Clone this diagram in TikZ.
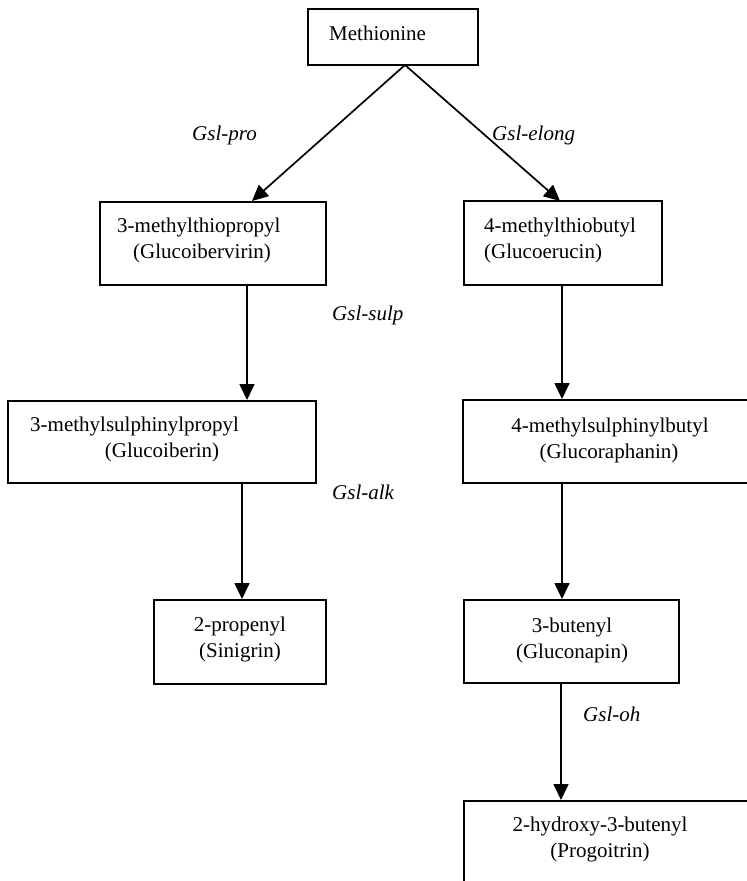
\documentclass[tikz,border=0pt]{standalone}
\usepackage{fontspec}
\setmainfont{Liberation Serif}
\usetikzlibrary{arrows.meta}
\begin{document}
\begin{tikzpicture}[x=1pt,y=-1pt,
  box/.style={draw,line width=2pt,rectangle,inner sep=0pt},
  txt/.style={inner sep=0pt,font=\fontsize{21}{25}\selectfont},
  lab/.style={inner sep=0pt,font=\fontsize{21}{25}\selectfont\itshape},
  conn/.style={line width=1.7pt,-{Triangle[length=16pt,width=15pt]}}]
\useasboundingbox (0,0) rectangle (747,881);
\clip (0,0) rectangle (747,881);
\fill[white] (0,0) rectangle (747,881);
% boxes
\node[box,minimum width=170pt,minimum height=56pt] (M) at (393,37) {};
\node[box,minimum width=226pt,minimum height=83pt] (A) at (213,243.5) {};
\node[box,minimum width=198pt,minimum height=84pt] (B) at (563,243) {};
\node[box,minimum width=308pt,minimum height=82pt] (C) at (162,442) {};
\node[box,minimum width=320pt,minimum height=83pt] (D) at (623,441.5) {};
\node[box,minimum width=172pt,minimum height=84pt] (E) at (240,642) {};
\node[box,minimum width=215pt,minimum height=83pt] (F) at (571.5,641.5) {};
\node[box,minimum width=320pt,minimum height=140pt] (G) at (624,871) {};
% texts
\node[txt,anchor=base west] (tM) at (329,40) {Methionine};
\node[txt,anchor=base west] (tA1) at (117,232) {3-methylthiopropyl};
\node[txt,anchor=base west] (tA2) at (133,258) {(Glucoibervirin)};
\node[txt,anchor=base west] (tB1) at (484,232) {4-methylthiobutyl};
\node[txt,anchor=base west] (tB2) at (484,258) {(Glucoerucin)};
\node[txt,anchor=base west] (tC1) at (30,431) {3-methylsulphinylpropyl};
\node[txt,anchor=base] (tC2) at (162,457) {(Glucoiberin)};
\node[txt,anchor=base] (tD1) at (610,432) {4-methylsulphinylbutyl};
\node[txt,anchor=base] (tD2) at (609,458) {(Glucoraphanin)};
\node[txt,anchor=base] (tE1) at (240,631) {2-propenyl};
\node[txt,anchor=base] (tE2) at (240,657) {(Sinigrin)};
\node[txt,anchor=base] (tF1) at (572,632) {3-butenyl};
\node[txt,anchor=base] (tF2) at (572,658) {(Gluconapin)};
\node[txt,anchor=base] (tG1) at (600,831) {2-hydroxy-3-butenyl};
\node[txt,anchor=base] (tG2) at (600,857) {(Progoitrin)};
% labels
\node[lab,anchor=base west] (lpro) at (192,140) {Gsl-pro};
\node[lab,anchor=base west] (lelong) at (492,140) {Gsl-elong};
\node[lab,anchor=base west] (lsulp) at (332,320) {Gsl-sulp};
\node[lab,anchor=base west] (lalk) at (332,499) {Gsl-alk};
\node[lab,anchor=base west] (loh) at (583,721) {Gsl-oh};
% connectors
\coordinate (Mapex) at (405,65);
\coordinate (Ain) at (252,201);
\coordinate (Bin) at (560,201);
\draw[conn] (Mapex) -- (Ain);
\draw[conn] (Mapex) -- (Bin);
\draw[conn] (A.south -| 247,0) -- (C.north -| 247,0);
\draw[conn] (C.south -| 242,0) -- (E.north -| 242,0);
\draw[conn] (B.south -| 562,0) -- (D.north -| 562,0);
\draw[conn] (D.south -| 562,0) -- (F.north -| 562,0);
\draw[conn] (F.south -| 561,0) -- (G.north -| 561,0);
\end{tikzpicture}
\end{document}
